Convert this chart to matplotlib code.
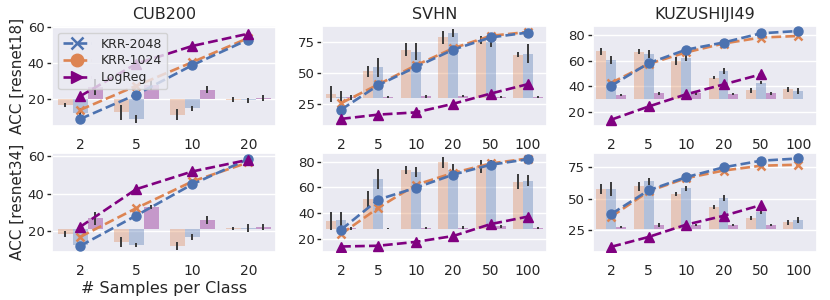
import numpy as np
import matplotlib
matplotlib.use('Agg')
import matplotlib.pyplot as plt
import seaborn as sns
from matplotlib.lines import Line2D

# sample counts per class
shots_cub = [2, 5, 10, 20]
shots_big = [2, 5, 10, 20, 50, 100]

# --- CUB200 ---
cub18_k2048 = [8.5, 22.2, 38.7, 53.1]
cub18_k1024 = [13.6, 27.1, 40.4, 54.0]
cub18_lr = [21.3, 39.5, 49.5, 56.4]
cub18_bar_1024 = [16.4, 12.2, 10.9, 19.3]
cub18_bar_2048 = [11.8, 8.5, 14.5, 19.0]
cub18_bar_lr = [26.4, 27.8, 24.9, 20.3]
cub18_err_1024 = [1.3, 4.0, 3.0, 1.5]
cub18_err_2048 = [3.0, 2.0, 1.5, 1.5]
cub18_err_lr = [4.5, 3.0, 2.0, 1.8]

cub34_k2048 = [12.2, 28.3, 44.9, 58.3]
cub34_k1024 = [17.0, 32.2, 46.4, 56.5]
cub34_lr = [22.3, 42.3, 51.7, 57.9]
cub34_bar_1024 = [18.6, 14.4, 12.2, 21.5]
cub34_bar_2048 = [12.7, 12.7, 16.8, 21.6]
cub34_bar_lr = [26.8, 32.7, 25.9, 22.3]
cub34_err_1024 = [1.5, 2.6, 2.0, 1.0]
cub34_err_2048 = [1.0, 1.0, 1.5, 2.0]
cub34_err_lr = [3.5, 1.0, 2.0, 1.5]

# --- SVHN ---
svhn18_k2048 = [20.2, 40.2, 54.9, 69.1, 79.0, 83.0]
svhn18_k1024 = [25.5, 40.8, 56.3, 70.2, 80.3, 83.5]
svhn18_lr = [12.7, 16.2, 18.0, 25.0, 33.3, 41.0]
svhn18_bar_1024 = [33.0, 51.5, 69.1, 79.0, 76.9, 64.8]
svhn18_bar_2048 = [30.9, 54.7, 67.5, 82.5, 75.0, 65.6]
svhn18_bar_lr = [30.2, 30.5, 31.0, 31.5, 30.5, 30.2]
svhn18_err_1024 = [6.7, 4.4, 5.3, 5.0, 3.3, 2.0]
svhn18_err_2048 = [4.8, 7.5, 6.7, 3.3, 3.5, 7.8]
svhn18_err_lr = [2.0, 1.0, 1.5, 1.0, 1.0, 0.8]

svhn34_k2048 = [26.9, 50.5, 59.7, 70.0, 77.7, 82.0]
svhn34_k1024 = [23.5, 44.1, 62.0, 71.3, 78.7, 82.6]
svhn34_lr = [13.8, 14.4, 17.4, 22.0, 31.3, 37.2]
svhn34_bar_1024 = [33.8, 50.8, 73.6, 79.5, 76.5, 64.6]
svhn34_bar_2048 = [34.6, 66.7, 71.8, 74.0, 78.0, 65.4]
svhn34_bar_lr = [28.0, 27.8, 28.5, 28.5, 29.5, 28.5]
svhn34_err_1024 = [7.0, 6.7, 3.0, 4.2, 5.0, 5.8]
svhn34_err_2048 = [5.8, 8.0, 3.8, 4.5, 3.5, 4.0]
svhn34_err_lr = [1.0, 0.5, 0.8, 1.0, 1.0, 0.8]

# --- KUZUSHIJI49 ---
kuz18_k2048 = [40.3, 58.0, 68.5, 74.1, 81.3, 83.1]
kuz18_k1024 = [42.6, 57.4, 66.4, 73.3, 78.0, 79.2]
kuz18_lr = [13.8, 24.1, 33.6, 41.3, 49.2, np.nan]
kuz18_bar_1024 = [67.2, 66.9, 59.7, 46.4, 36.9, 37.4]
kuz18_bar_2048 = [60.5, 65.1, 61.8, 51.5, 42.8, 36.4]
kuz18_bar_lr = [33.1, 34.4, 34.4, 33.8, 34.4, np.nan]
kuz18_err_1024 = [2.8, 1.8, 3.2, 1.2, 2.0, 2.0]
kuz18_err_2048 = [2.9, 3.2, 2.5, 2.3, 1.0, 2.3]
kuz18_err_lr = [1.0, 1.2, 1.5, 1.0, 1.0, np.nan]

kuz34_k2048 = [37.6, 56.6, 67.1, 75.0, 80.3, 82.1]
kuz34_k1024 = [35.5, 55.8, 66.3, 72.4, 76.3, 77.1]
kuz34_lr = [11.3, 19.2, 29.0, 36.1, 44.7, np.nan]
kuz34_bar_1024 = [57.9, 59.7, 54.0, 43.4, 34.2, 31.0]
kuz34_bar_2048 = [57.4, 63.7, 58.4, 50.5, 39.0, 32.9]
kuz34_bar_lr = [27.1, 28.9, 28.9, 28.4, 28.4, np.nan]
kuz34_err_1024 = [3.9, 3.3, 1.6, 1.6, 1.7, 2.0]
kuz34_err_2048 = [5.5, 2.9, 2.0, 2.6, 1.7, 2.4]
kuz34_err_lr = [0.8, 1.5, 1.0, 0.8, 0.8, np.nan]

# zero level of the bars (in the axis units of each panel)
bar_base = {'cub18': 20, 'cub34': 21, 'svhn18': 30, 'svhn34': 27.7,
            'kuz18': 30, 'kuz34': 25.8}

titles = ['CUB200', 'SVHN', 'KUZUSHIJI49']
ylabels = ['ACC [resnet18]', 'ACC [resnet34]']

yticks = {'cub18': [20, 40, 60], 'cub34': [20, 40, 60],
          'svhn18': [25, 50, 75], 'svhn34': [20, 40, 60, 80],
          'kuz18': [20, 40, 60, 80], 'kuz34': [25, 50, 75]}
ylims = {'cub18': (4.7, 60.5), 'cub34': (9, 61.7),
         'svhn18': (7.1, 88), 'svhn34': (9.5, 87.2),
         'kuz18': (9, 86.7), 'kuz34': (7.1, 86.8)}

c2048 = '#4c72b0'
c1024 = '#dd8452'
clr = 'purple'

sns.set_theme(style='darkgrid')
plt.rcParams['font.family'] = ['DejaVu Sans']


def drawPanel(ax, key, shots, k2048, k1024, lr, bars, errs):
    x = np.arange(len(shots))
    w = 0.8 / 3
    base = bar_base[key]
    for off, top, err, col in zip([-w, 0, w], bars, errs, [c1024, c2048, clr]):
        top = np.array(top, dtype=float)
        ax.bar(x + off, top - base, bottom=base, width=w, color=col,
               alpha=0.35, linewidth=0, zorder=1)
        ax.errorbar(x + off, top, yerr=err, fmt='none', ecolor='#3a3a3a',
                    elinewidth=1.4, capsize=0, zorder=2)
    ax.plot(x, k1024, '--x', color=c1024, lw=1.9, ms=6, mew=1.8, zorder=3)
    ax.plot(x, k2048, '--o', color=c2048, lw=1.9, ms=6.5, zorder=4)
    ax.plot(x, lr, '--^', color=clr, lw=1.9, ms=6.5, zorder=5)
    ax.set_xticks(x)
    ax.set_xticklabels(shots)
    ax.set_xlim(-0.5, len(shots) - 0.5)
    ax.set_ylim(*ylims[key])
    ax.set_yticks(yticks[key])
    ax.xaxis.grid(False)
    ax.tick_params(axis='y', left=True, length=3.5, width=1, color='#262626',
                   labelsize=9.5, pad=2)
    ax.tick_params(axis='x', bottom=False, labelsize=10, pad=2.5)


fig, axes = plt.subplots(2, 3, figsize=(8.3, 3.0), dpi=100)
fig.subplots_adjust(left=0.0627, right=0.9843, top=0.912, bottom=0.16,
                    wspace=0.205, hspace=0.27)

drawPanel(axes[0, 0], 'cub18', shots_cub, cub18_k2048, cub18_k1024, cub18_lr,
          [cub18_bar_1024, cub18_bar_2048, cub18_bar_lr],
          [cub18_err_1024, cub18_err_2048, cub18_err_lr])
drawPanel(axes[1, 0], 'cub34', shots_cub, cub34_k2048, cub34_k1024, cub34_lr,
          [cub34_bar_1024, cub34_bar_2048, cub34_bar_lr],
          [cub34_err_1024, cub34_err_2048, cub34_err_lr])
drawPanel(axes[0, 1], 'svhn18', shots_big, svhn18_k2048, svhn18_k1024, svhn18_lr,
          [svhn18_bar_1024, svhn18_bar_2048, svhn18_bar_lr],
          [svhn18_err_1024, svhn18_err_2048, svhn18_err_lr])
drawPanel(axes[1, 1], 'svhn34', shots_big, svhn34_k2048, svhn34_k1024, svhn34_lr,
          [svhn34_bar_1024, svhn34_bar_2048, svhn34_bar_lr],
          [svhn34_err_1024, svhn34_err_2048, svhn34_err_lr])
drawPanel(axes[0, 2], 'kuz18', shots_big, kuz18_k2048, kuz18_k1024, kuz18_lr,
          [kuz18_bar_1024, kuz18_bar_2048, kuz18_bar_lr],
          [kuz18_err_1024, kuz18_err_2048, kuz18_err_lr])
drawPanel(axes[1, 2], 'kuz34', shots_big, kuz34_k2048, kuz34_k1024, kuz34_lr,
          [kuz34_bar_1024, kuz34_bar_2048, kuz34_bar_lr],
          [kuz34_err_1024, kuz34_err_2048, kuz34_err_lr])

for ax, t in zip(axes[0], titles):
    ax.set_title(t, fontsize=11.5, pad=5)
for ax, lab in zip(axes[:, 0], ylabels):
    ax.set_ylabel(lab, fontsize=11, labelpad=2)
axes[1, 0].set_xlabel('# Samples per Class', fontsize=11.5, labelpad=2)

# legend markers differ from the plotted ones, as in the original figure
handles = [Line2D([], [], ls='--', marker='x', color=c2048, lw=1.9, ms=9, mew=1.8),
           Line2D([], [], ls='--', marker='o', color=c1024, lw=1.9, ms=9),
           Line2D([], [], ls='--', marker='>', color=clr, lw=1.9, ms=9)]
axes[0, 0].legend(handles, ['KRR-2048', 'KRR-1024', 'LogReg'], loc='upper left',
                  fontsize=9, handlelength=2.2, borderpad=0.4, labelspacing=0.3,
                  framealpha=0.8)

fig.savefig('out.png', dpi=100)
